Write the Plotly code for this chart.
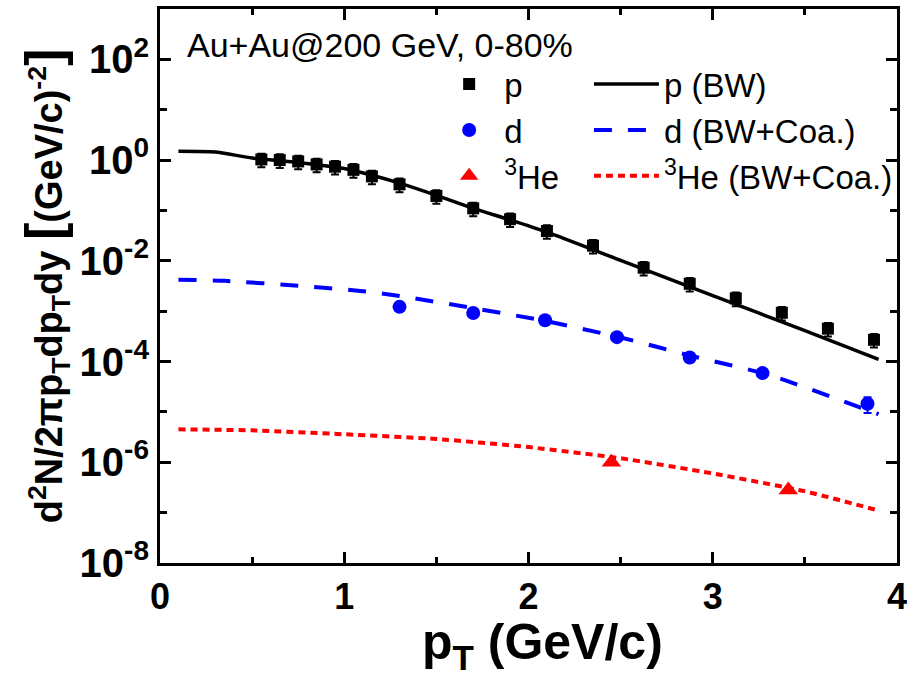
import plotly.graph_objects as go

# ---------------- data ----------------
p_x = [0.55, 0.65, 0.75, 0.85, 0.95, 1.05, 1.15, 1.3, 1.5, 1.7, 1.9, 2.1,
       2.35, 2.625, 2.875, 3.125, 3.375, 3.625, 3.875]
p_y = [1.03, 1.0, 0.94, 0.82, 0.74, 0.64, 0.475, 0.33, 0.194, 0.11, 0.067, 0.039,
       0.020, 0.0073, 0.0035, 0.0018, 0.00093, 0.00045, 0.00027]

d_x = [1.3, 1.7, 2.09, 2.48, 2.875, 3.27, 3.84]
d_y = [1.22e-3, 9.2e-4, 6.6e-4, 3.05e-4, 1.2e-4, 5.9e-5, 1.45e-5]
d_err = [1.0e-4, 7e-5, 5e-5, 2.5e-5, 1.2e-5, 6e-6, 5e-6]

he_x = [2.45, 3.41]
he_y = [1.0e-6, 2.8e-7]

p_bw_x = [0.1, 0.3, 0.5, 0.75, 1.0, 1.15, 1.3, 1.5, 1.7, 1.9, 2.1, 2.5, 3.0, 3.5, 3.9]
p_bw_y = [1.5, 1.45, 1.1, 0.9, 0.68, 0.5, 0.35, 0.2, 0.11, 0.065, 0.037,
          0.0102, 0.00204, 4.1e-4, 1.1e-4]

d_coa_x = [0.1, 0.35, 0.75, 1.1, 1.3, 1.7, 2.1, 2.5, 2.9, 3.3, 3.9]
d_coa_y = [4.2e-3, 4.0e-3, 3.2e-3, 2.5e-3, 2.0e-3, 1.15e-3, 6.3e-4, 3.0e-4,
           1.25e-4, 5.5e-5, 9e-6]

he_coa_x = [0.1, 0.5, 1.0, 1.5, 2.0, 2.5, 3.0, 3.5, 3.9]
he_coa_y = [4.5e-6, 4.3e-6, 3.6e-6, 2.9e-6, 2.0e-6, 1.2e-6, 6.0e-7, 2.65e-7, 1.1e-7]

x_tickvals = [0, 1, 2, 3, 4]
x_ticktext = ["0", "1", "2", "3", "4"]
x_minorvals = [0.5, 1.5, 2.5, 3.5]
y_tickvals = [1e-8, 1e-6, 1e-4, 1e-2, 1e0, 1e2]
y_ticktext = ["10<sup>-8</sup>", "10<sup>-6</sup>", "10<sup>-4</sup>",
              "10<sup>-2</sup>", "10<sup>0</sup>", "10<sup>2</sup>"]
y_minorvals = [1e-7, 1e-5, 1e-3, 1e-1, 1e1]

# ---------------- figure ----------------
SANS = "Liberation Sans"

fig = go.Figure()

fig.add_trace(go.Scatter(
    x=p_x, y=p_y, mode="markers", name="p", legend="legend", legendgroup="a",
    marker=dict(symbol="square", size=12, color="black"),
    error_y=dict(type="percent", value=30, color="black", thickness=2, width=4),
))
fig.add_trace(go.Scatter(
    x=d_x, y=d_y, mode="markers", name="d", legend="legend", legendgroup="b",
    marker=dict(symbol="circle", size=14, color="#0000ff"),
    error_y=dict(type="data", array=d_err, color="#0000ff", thickness=2, width=4),
))
fig.add_trace(go.Scatter(
    x=he_x, y=he_y, mode="markers", name="<sup>3</sup>He", legend="legend", legendgroup="c",
    marker=dict(symbol="triangle-up", size=17, color="#ff0000"),
))

fig.add_trace(go.Scatter(
    x=p_bw_x, y=p_bw_y, mode="lines", name="p (BW)", legend="legend2", legendgroup="d",
    line=dict(color="black", width=3.5, shape="spline", smoothing=0.6),
))
fig.add_trace(go.Scatter(
    x=d_coa_x, y=d_coa_y, mode="lines", name="d (BW+Coa.)", legend="legend2", legendgroup="e",
    line=dict(color="#0000ff", width=4, dash="18px,16px", shape="spline", smoothing=0.6),
))
fig.add_trace(go.Scatter(
    x=he_coa_x, y=he_coa_y, mode="lines", name="<sup>3</sup>He (BW+Coa.)", legend="legend2",
    legendgroup="f",
    line=dict(color="#ff0000", width=4, dash="7px,5px", shape="spline", smoothing=0.6),
))

axis_common = dict(
    showline=True, linewidth=3, linecolor="black", mirror="ticks",
    ticks="inside", tickwidth=2.5, tickcolor="black", showgrid=False, zeroline=False,
)

fig.update_layout(
    width=913, height=677,
    margin=dict(l=160, r=6, t=8, b=114),
    plot_bgcolor="white", paper_bgcolor="white",
    xaxis=dict(
        range=[0, 4], tickmode="array", tickvals=x_tickvals, ticktext=x_ticktext,
        ticklen=11, ticklabeloverflow="allow",
        tickfont=dict(family=SANS, size=36, color="black", weight="bold"),
        minor=dict(tickvals=x_minorvals, ticklen=6, tickwidth=2.5,
                   tickcolor="black", ticks="inside"),
        title=dict(text="&nbsp;&nbsp;p<sub>T</sub> (GeV/c)",
                   font=dict(family=SANS, size=50, color="black", weight="bold"),
                   standoff=2),
        **axis_common,
    ),
    yaxis=dict(
        type="log", range=[-8, 3], tickmode="array", tickvals=y_tickvals,
        ticktext=y_ticktext, ticklen=11,
        tickfont=dict(family=SANS, size=40, color="black", weight="bold"),
        minor=dict(tickvals=y_minorvals, ticklen=7, tickwidth=2.5,
                   tickcolor="black", ticks="inside"),
        title=dict(text="d<sup>2</sup>N/2πp<sub>T</sub>dp<sub>T</sub>dy "
                        "<span style='font-size:52px'>[</span>(GeV/c)<sup>-2</sup>"
                        "<span style='font-size:52px'>]</span>",
                   font=dict(family=SANS, size=38, color="black", weight="bold"),
                   standoff=6),
        **axis_common,
    ),
    legend=dict(
        x=0.372, y=0.915, xanchor="left", yanchor="top",
        bgcolor="rgba(0,0,0,0)", borderwidth=0,
        font=dict(family=SANS, size=33, color="black"),
        tracegroupgap=0, itemwidth=60,
    ),
    legend2=dict(
        x=0.582, y=0.915, xanchor="left", yanchor="top",
        bgcolor="rgba(0,0,0,0)", borderwidth=0,
        font=dict(family=SANS, size=33, color="black"),
        tracegroupgap=0, itemwidth=65,
    ),
    annotations=[dict(
        text="Au+Au@200 GeV, 0-80%", x=0.0335, y=0.935, xref="paper", yref="paper",
        xanchor="left", yanchor="middle", showarrow=False,
        font=dict(family=SANS, size=34, color="black"),
    )],
)

fig.write_html("out.html")
